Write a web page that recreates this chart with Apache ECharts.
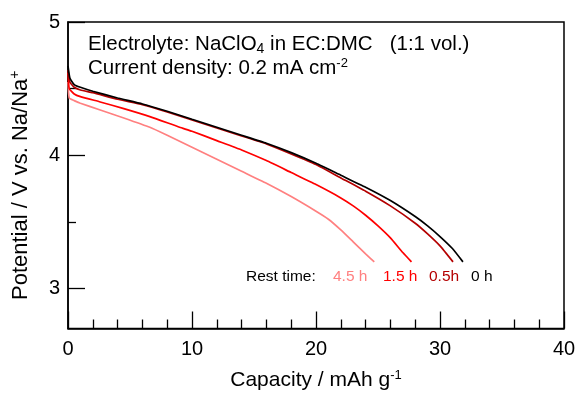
<!DOCTYPE html>
<html><head><meta charset="utf-8">
<script src="https://cdn.jsdelivr.net/npm/echarts@6/dist/echarts.min.js"></script>
<style>html,body{margin:0;padding:0;background:#fff}#c{width:580px;height:396px}</style>
</head><body><div id="c"></div>
<script>
// Capacity (mAh g-1) and potential (V) per rest time
const cap0h  = [0, 0.15, 0.5, 1, 2, 4, 6, 8, 10, 12, 14, 16, 18, 20, 22, 24, 26, 28, 29, 30, 31, 31.85];
const pot0h  = [4.67, 4.58, 4.53, 4.51, 4.48, 4.43, 4.385, 4.33, 4.27, 4.21, 4.15, 4.09, 4.02, 3.94, 3.85, 3.76, 3.66, 3.54, 3.47, 3.39, 3.30, 3.20];
const cap05h = [0, 0.15, 0.5, 1, 2, 4, 6, 8, 10, 12, 14, 16, 18, 20, 22, 24, 26, 28, 29, 30, 31.05];
const pot05h = [4.64, 4.55, 4.51, 4.49, 4.47, 4.42, 4.38, 4.325, 4.265, 4.205, 4.145, 4.085, 4.01, 3.93, 3.83, 3.73, 3.62, 3.49, 3.41, 3.32, 3.20];
const cap15h = [0, 0.1, 0.5, 1, 2.6, 4.5, 6.6, 9, 10, 12, 14, 16, 18, 20, 22, 23, 24, 25, 26, 27, 27.7];
const pot15h = [4.62, 4.50, 4.46, 4.44, 4.40, 4.35, 4.29, 4.21, 4.18, 4.11, 4.04, 3.96, 3.87, 3.78, 3.68, 3.62, 3.55, 3.47, 3.38, 3.27, 3.20];
const cap45h = [0, 0.1, 0.5, 1, 2.6, 4.5, 6.6, 8, 10, 12, 14, 16, 18, 20, 21, 22, 23, 24, 24.7];
const pot45h = [4.55, 4.43, 4.41, 4.39, 4.34, 4.28, 4.21, 4.15, 4.06, 3.97, 3.88, 3.79, 3.69, 3.58, 3.52, 3.44, 3.35, 3.26, 3.20];
const restLabels = ['4.5 h', '1.5 h', '0.5h', '0 h'];
const yMajorTicks = [3, 4, 5];
const yMinorTicks = [3.5, 4.5];

const zip = (a, b) => a.map((v, i) => [v, b[i]]);
const font = 'Liberation Sans, Arial, sans-serif';
const chart = echarts.init(document.getElementById('c'));
const mk = (name, data, color) => ({
  name, type: 'line', data, showSymbol: false, symbol: 'none',
  lineStyle: { color, width: 1.7 }, smooth: 0.15, clip: true, animation: false
});
chart.setOption({
  animation: false,
  grid: { left: 68, top: 22, width: 496, height: 307, show: true, borderColor: '#000', borderWidth: 1.5, backgroundColor: 'transparent' },
  xAxis: {
    type: 'value', min: 0, max: 40, interval: 10,
    name: 'Capacity / mAh g{sup|-1}', nameLocation: 'middle', nameGap: 40,
    nameTextStyle: { fontFamily: font, fontSize: 21, color: '#000',
      rich: { sup: { fontFamily: font, fontSize: 13, color: '#000', padding: [0, 0, 11, 0] } } },
    axisLine: { lineStyle: { color: '#000', width: 1.5 } },
    axisTick: { inside: true, length: 17, lineStyle: { color: '#000', width: 1.3 } },
    minorTick: { show: true, splitNumber: 5, length: 9, lineStyle: { color: '#000', width: 1.3 } },
    axisLabel: { fontFamily: font, fontSize: 20, color: '#000', margin: 11 },
    splitLine: { show: false }
  },
  yAxis: [{
    type: 'value', min: 2.7, max: 5,
    name: 'Potential / V vs. Na/Na{sup|+}', nameLocation: 'middle', nameGap: 35,
    nameTextStyle: { fontFamily: font, fontSize: 22, color: '#000', padding: [0, 20, 0, 0],
      rich: { sup: { fontFamily: font, fontSize: 14, color: '#000', padding: [0, 0, 11, 0] } } },
    axisLine: { lineStyle: { color: '#000', width: 1.5 } },
    axisTick: { inside: true, length: 17, customValues: yMajorTicks, lineStyle: { color: '#000', width: 1.3 } },
    axisLabel: { fontFamily: font, fontSize: 20, color: '#000', margin: 8, customValues: yMajorTicks },
    splitLine: { show: false }
  }, {
    type: 'value', min: 2.7, max: 5, position: 'left',
    axisLine: { show: false },
    axisTick: { inside: true, length: 8, customValues: yMinorTicks, lineStyle: { color: '#000', width: 1.3 } },
    axisLabel: { show: false },
    splitLine: { show: false }
  }],
  series: [
    mk('4.5 h', zip(cap45h, pot45h), '#ff8080'),
    mk('1.5 h', zip(cap15h, pot15h), '#ff0000'),
    mk('0.5h', zip(cap05h, pot05h), '#b40000'),
    mk('0 h', zip(cap0h, pot0h), '#000000')
  ],
  graphic: [
    { type: 'text', left: 88, top: 34, style: {
      text: 'Electrolyte: NaClO{sub|4} in EC:DMC   (1:1 vol.)', font: '20.5px ' + font, fill: '#000',
      rich: { sub: { fontSize: 14, fontFamily: font, fill: '#000', padding: [9, 0, 0, 0] } } } },
    { type: 'text', left: 88, top: 57, style: {
      text: 'Current density: 0.2 mA cm{sup|-2}', font: '20.5px ' + font, fill: '#000',
      rich: { sup: { fontSize: 13, fontFamily: font, fill: '#000', padding: [0, 0, 10, 0] } } } },
    { type: 'text', left: 246, top: 269, style: { text: 'Rest time:', font: '15.5px ' + font, fill: '#000' } },
    { type: 'text', left: 333, top: 269, style: { text: restLabels[0], font: '15.5px ' + font, fill: '#ff8080' } },
    { type: 'text', left: 383, top: 269, style: { text: restLabels[1], font: '15.5px ' + font, fill: '#ff0000' } },
    { type: 'text', left: 429, top: 269, style: { text: restLabels[2], font: '15.5px ' + font, fill: '#b40000' } },
    { type: 'text', left: 471, top: 269, style: { text: restLabels[3], font: '15.5px ' + font, fill: '#000' } }
  ]
});
</script></body></html>
